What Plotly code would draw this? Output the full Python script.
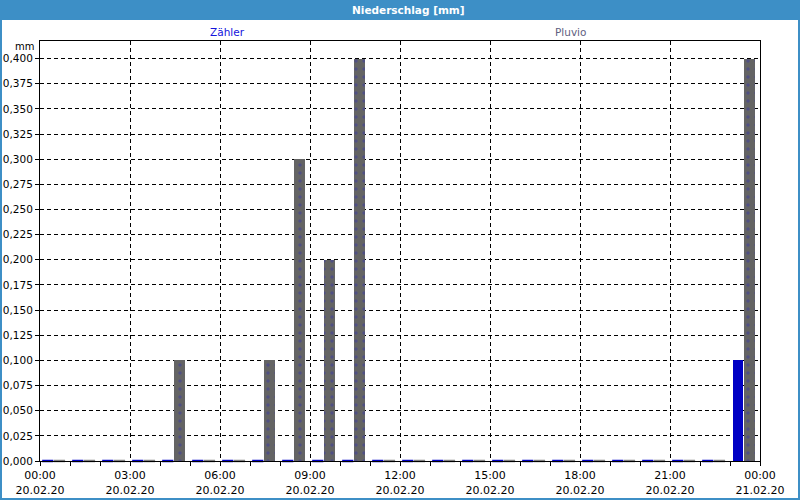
import plotly.graph_objects as go
import pandas as pd

# ---- data ----
day = "2020-02-20"
hours = [f"{day} {h:02d}:00" for h in range(24)]
zaehler = [0, 0, 0, 0, 0, 0, 0, 0, 0, 0, 0, 0,
           0, 0, 0, 0, 0, 0, 0, 0, 0, 0, 0, 0.1]
pluvio = [0, 0, 0, 0, 0.1, 0, 0, 0.1, 0.3, 0.2, 0.4, 0,
          0, 0, 0, 0, 0, 0, 0, 0, 0, 0, 0, 0.4]
tick_times = [f"{day} {h:02d}:00" for h in range(0, 24, 3)] + ["2020-02-21 00:00"]
tick_labels = ["00:00<br>20.02.20", "03:00<br>20.02.20", "06:00<br>20.02.20",
               "09:00<br>20.02.20", "12:00<br>20.02.20", "15:00<br>20.02.20",
               "18:00<br>20.02.20", "21:00<br>20.02.20", "00:00<br>21.02.20"]
y_ticks = [i * 0.025 for i in range(17)]

HOUR_MS = 3600000
blue_off, blue_w = HOUR_MS * 2.5 / 30, HOUR_MS * 10.5 / 30
gray_off, gray_w = HOUR_MS * 14 / 30, HOUR_MS * 11 / 30

BLUE = "#0000c4"
GRAY = "#646464"
FRAME = "#3d8fc6"

fig = go.Figure()
fig.add_trace(go.Bar(x=hours, y=zaehler, offset=blue_off, width=blue_w,
                     marker=dict(color=BLUE, line=dict(width=0)), name="Zähler"))
fig.add_trace(go.Bar(x=hours, y=pluvio, offset=gray_off, width=gray_w,
                     marker=dict(color=GRAY, line=dict(width=0),
                                 pattern=dict(shape=".", fgcolor="#3c3ca0", bgcolor=GRAY,
                                              size=8, solidity=0.15)),
                     name="Pluvio"))

# zero-height bars rendered as thin stubs at the base
t = pd.to_datetime(hours)
zx_b = [ti + pd.Timedelta(milliseconds=blue_off + blue_w / 2) for ti, v in zip(t, zaehler) if v == 0]
zx_g = [ti + pd.Timedelta(milliseconds=gray_off + gray_w / 2) for ti, v in zip(t, pluvio) if v == 0]
fig.add_trace(go.Scatter(x=zx_b, y=[0] * len(zx_b), mode="markers", cliponaxis=False,
                         marker=dict(symbol="line-ew", size=8, line=dict(color=BLUE, width=2.5)),
                         hoverinfo="skip"))
fig.add_trace(go.Scatter(x=zx_g, y=[0] * len(zx_g), mode="markers", cliponaxis=False,
                         marker=dict(symbol="line-ew", size=8, line=dict(color="#808080", width=2.5)),
                         hoverinfo="skip"))

font = "DejaVu Sans"
L, T, W, H = 40, 41, 720, 420


def px(x):
    return (x - L) / W


def py(y):
    return (T + H - y) / H


fig.update_layout(
    width=800, height=500,
    margin=dict(l=40, r=40, t=41, b=39, autoexpand=False),
    paper_bgcolor="white", plot_bgcolor="white",
    showlegend=False, separators=",.",
    font=dict(family=font, size=11, color="black"),
    bargap=0,
    xaxis=dict(type="date", range=[f"{day} 00:00", "2020-02-21 00:00"],
               tickvals=tick_times, ticktext=tick_labels, automargin=False,
               showgrid=True, gridcolor="black", griddash="4px,3px", gridwidth=1,
               ticks="outside", ticklen=4, tickcolor="black", ticklabelstandoff=0,
               minor=dict(dtick=HOUR_MS, ticks="outside", ticklen=4, tickcolor="black", showgrid=False),
               showline=True, linecolor="black", linewidth=1, mirror=True,
               zeroline=False, tickfont=dict(size=11, family=font)),
    yaxis=dict(range=[0, 0.4175], tickvals=y_ticks, tickformat=".3f", automargin=False,
               showgrid=True, gridcolor="black", griddash="4px,3px", gridwidth=1,
               ticks="outside", ticklen=4, tickcolor="black", ticklabelstandoff=0,
               showline=True, linecolor="black", linewidth=1, mirror=True,
               zeroline=False, tickfont=dict(size=10.5, family=font)),
    shapes=[
        dict(type="rect", xref="paper", yref="paper", x0=px(0), x1=px(800),
             y0=py(20), y1=py(0), fillcolor=FRAME, line=dict(width=0), layer="below"),
        dict(type="rect", xref="paper", yref="paper", x0=px(0), x1=px(2),
             y0=py(500), y1=py(20), fillcolor=FRAME, line=dict(width=0)),
        dict(type="rect", xref="paper", yref="paper", x0=px(798), x1=px(800),
             y0=py(500), y1=py(20), fillcolor=FRAME, line=dict(width=0)),
        dict(type="rect", xref="paper", yref="paper", x0=px(0), x1=px(800),
             y0=py(500), y1=py(498), fillcolor=FRAME, line=dict(width=0)),
    ],
    annotations=[
        dict(text="<b>Niederschlag [mm]</b>", xref="paper", yref="paper", x=px(408), y=py(10),
             yanchor="middle", showarrow=False, font=dict(color="white", size=10.5, family=font)),
        dict(text="Zähler", xref="paper", yref="paper", x=px(208), y=py(32), yanchor="middle",
             showarrow=False, font=dict(color="#1414dc", size=10.5, family=font)),
        dict(text="Pluvio", xref="paper", yref="paper", x=px(588), y=py(32), yanchor="middle",
             showarrow=False, font=dict(color="#606080", size=10.5, family=font)),
        dict(text="mm", xref="paper", yref="paper", x=px(36), y=py(47), yanchor="middle",
             xanchor="right", showarrow=False, font=dict(color="black", size=10, family=font)),
    ],
)

fig.write_html("out.html")
